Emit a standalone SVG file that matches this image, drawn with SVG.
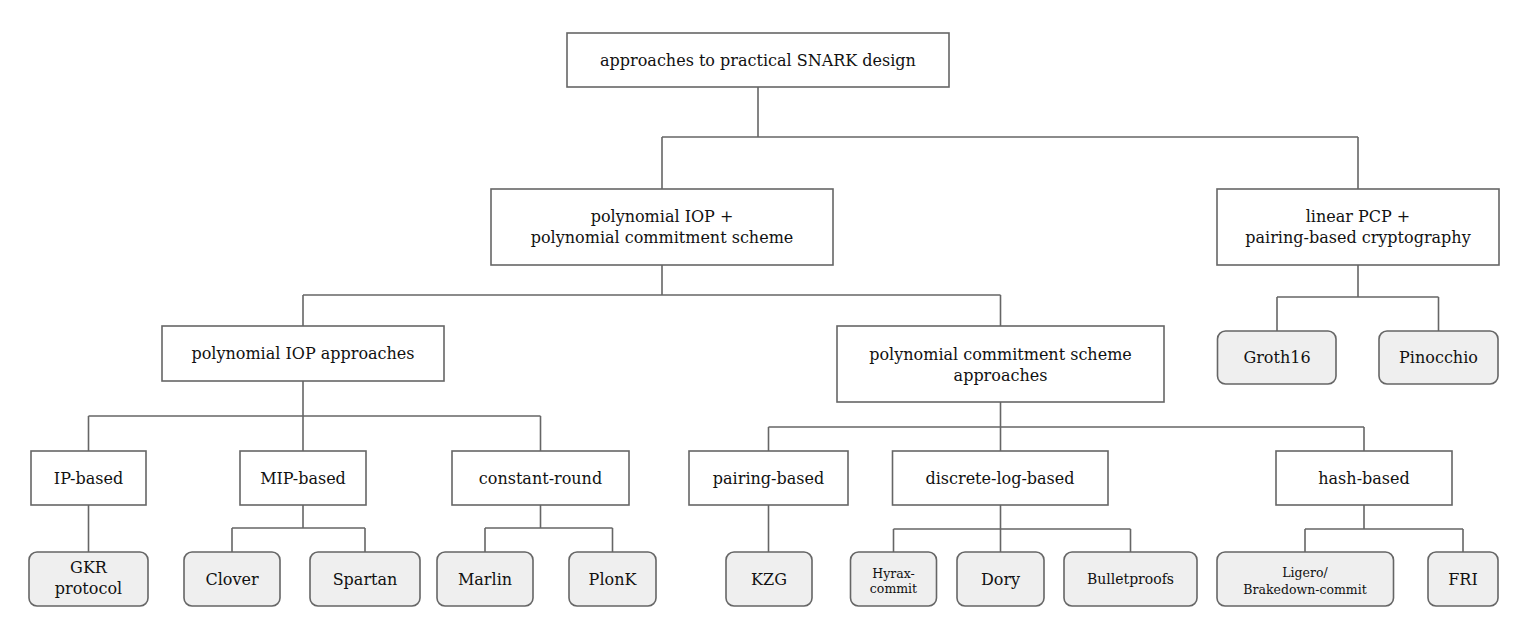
<svg xmlns="http://www.w3.org/2000/svg" width="1525" height="621" viewBox="0 0 1525 621">
<style>
.box{fill:#ffffff;stroke:#666666;stroke-width:1.6}
.leaf{fill:#efefef;stroke:#666666;stroke-width:1.6}
.c{fill:none;stroke:#666666;stroke-width:1.6}
text{font-family:"DejaVu Serif","Liberation Serif",serif;font-size:16px;fill:#111111;text-anchor:middle}
.s{font-size:12.5px}
.m{font-size:14px}
</style>
<rect width="1525" height="621" fill="#ffffff"/>
<g id="connectors">
<path class="c" d="M758 87V137M662 137H1358M662 137V189M1358 137V189"/>
<path class="c" d="M662 265V295M303 295H1000.5M303 295V326M1000.5 295V326"/>
<path class="c" d="M1358 265V297M1277 297H1438.5M1277 297V331M1438.5 297V331"/>
<path class="c" d="M303 381V416M88.5 416H540.5M88.5 416V451M303 416V451M540.5 416V451"/>
<path class="c" d="M88.5 505V552"/>
<path class="c" d="M303 505V528M232 528H365M232 528V552M365 528V552"/>
<path class="c" d="M540.5 505V528M485 528H612.5M485 528V552M612.5 528V552"/>
<path class="c" d="M1000.5 402V427M768.5 427H1364M768.5 427V451M1000.5 427V451M1364 427V451"/>
<path class="c" d="M768.5 505V552"/>
<path class="c" d="M1000.5 505V529M893.5 529H1130.5M893.5 529V552M1000.5 529V552M1130.5 529V552"/>
<path class="c" d="M1364 505V529M1305 529H1463M1305 529V552M1463 529V552"/>
</g>
<g id="root"><rect class="box" x="567" y="33" width="382" height="54"/><text x="758" y="65.5">approaches to practical SNARK design</text></g>
<g id="piop-pcs"><rect class="box" x="491" y="189" width="342" height="76"/><text x="662" y="222">polynomial IOP +</text><text x="662" y="243">polynomial commitment scheme</text></g>
<g id="lpcp"><rect class="box" x="1217" y="189" width="282" height="76"/><text x="1358" y="222">linear PCP +</text><text x="1358" y="243">pairing-based cryptography</text></g>
<g id="piop"><rect class="box" x="162" y="326" width="282" height="55"/><text x="303" y="359">polynomial IOP approaches</text></g>
<g id="pcs"><rect class="box" x="837" y="326" width="327" height="76"/><text x="1000.5" y="359.5">polynomial commitment scheme</text><text x="1000.5" y="381">approaches</text></g>
<g id="groth16"><rect class="leaf" x="1217.5" y="331" width="118.5" height="53" rx="8"/><text x="1277" y="363">Groth16</text></g>
<g id="pinocchio"><rect class="leaf" x="1379" y="331" width="119" height="53" rx="8"/><text x="1438.5" y="363">Pinocchio</text></g>
<g id="ip"><rect class="box" x="31" y="451" width="115" height="54"/><text x="88.5" y="483.5">IP-based</text></g>
<g id="mip"><rect class="box" x="240" y="451" width="126" height="54"/><text x="303" y="483.5">MIP-based</text></g>
<g id="const"><rect class="box" x="452" y="451" width="177" height="54"/><text x="540.5" y="483.5">constant-round</text></g>
<g id="pairing"><rect class="box" x="689" y="451" width="159" height="54"/><text x="768.5" y="483.5">pairing-based</text></g>
<g id="dlog"><rect class="box" x="892.5" y="451" width="215.5" height="54"/><text x="1000" y="483.5">discrete-log-based</text></g>
<g id="hash"><rect class="box" x="1276" y="451" width="176" height="54"/><text x="1364" y="483.5">hash-based</text></g>
<g id="gkr"><rect class="leaf" x="29" y="552" width="119" height="54" rx="8"/><text x="88.5" y="573">GKR</text><text x="88.5" y="594">protocol</text></g>
<g id="clover"><rect class="leaf" x="184" y="552" width="96" height="54" rx="8"/><text x="232" y="584.5">Clover</text></g>
<g id="spartan"><rect class="leaf" x="310" y="552" width="110" height="54" rx="8"/><text x="365" y="584.5">Spartan</text></g>
<g id="marlin"><rect class="leaf" x="437" y="552" width="96" height="54" rx="8"/><text x="485" y="584.5">Marlin</text></g>
<g id="plonk"><rect class="leaf" x="569" y="552" width="87" height="54" rx="8"/><text x="612.5" y="584.5">PlonK</text></g>
<g id="kzg"><rect class="leaf" x="726" y="552" width="86" height="54" rx="8"/><text x="769" y="584.5">KZG</text></g>
<g id="hyrax"><rect class="leaf" x="850.5" y="552" width="86" height="54" rx="8"/><text class="s" x="893.5" y="578">Hyrax-</text><text class="s" x="893.5" y="593">commit</text></g>
<g id="dory"><rect class="leaf" x="957" y="552" width="87" height="54" rx="8"/><text x="1000.5" y="584.5">Dory</text></g>
<g id="bulletproofs"><rect class="leaf" x="1064" y="552" width="133" height="54" rx="8"/><text class="m" x="1130.5" y="584">Bulletproofs</text></g>
<g id="ligero"><rect class="leaf" x="1217" y="552" width="176.5" height="54" rx="8"/><text class="s" x="1305" y="577">Ligero/</text><text class="s" x="1305" y="593.5">Brakedown-commit</text></g>
<g id="fri"><rect class="leaf" x="1428" y="552" width="70" height="54" rx="8"/><text x="1463" y="584.5">FRI</text></g>
</svg>
